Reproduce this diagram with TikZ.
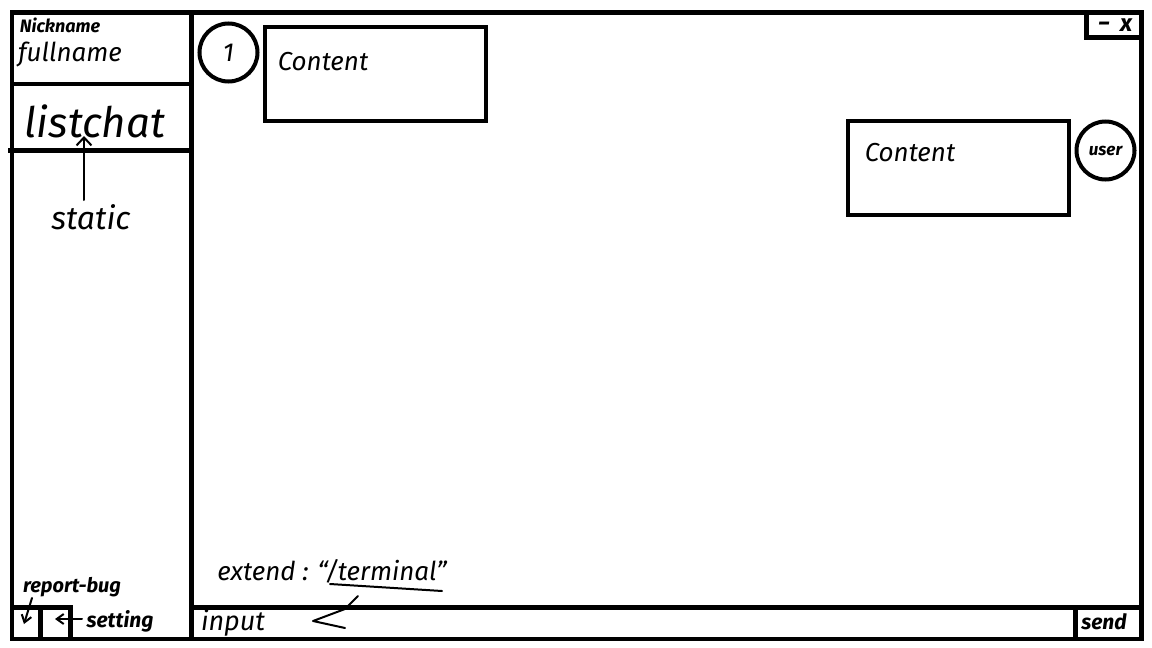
\documentclass[tikz,border=0pt]{standalone}
\usepackage{fontspec}
\setmainfont{Fira Sans}
\usetikzlibrary{arrows.meta}

\begin{document}
\begin{tikzpicture}[x=1pt, y=-1pt, line width=4.5pt,
  wall/.style={line width=4.5pt},
  contentbox/.style={draw, line width=4pt, minimum width=221pt, minimum height=94pt, inner sep=0pt},
  avatar/.style={draw, circle, line width=4pt, minimum size=58pt, inner sep=0pt},
  scrawl/.style={inner sep=0pt, font=\fontsize{#1}{#1}\selectfont\itshape},
  scrawlbold/.style={inner sep=0pt, font=\fontsize{#1}{#1}\selectfont\bfseries\itshape},
  pen/.style={line width=2pt, line cap=round, line join=round},
  penarrow/.style={pen, -{Straight Barb[length=8pt, width=15pt, line width=2pt]}},
  penarrowsmall/.style={pen, -{Straight Barb[length=7pt, width=10pt, line width=2pt]}},
]
  \useasboundingbox (0,0) rectangle (1152,648);
  % window frame
  \draw[wall] (12,12.5) rectangle (1141.5,639);
  % sidebar and input bar
  \draw[wall] (191.5,12.5) -- (191.5,639);
  \draw[wall] (12,84) -- (191.5,84);
  \draw[wall] (8,150.5) -- (191.5,150.5);
  \draw[wall] (191.5,607.5) -- (1141.5,607.5);
  \draw[wall] (1075.5,607.5) -- (1075.5,639);
  % buttons, bottom left
  \draw[wall] (12,607.5) -- (70.5,607.5) -- (70.5,639);
  \draw[wall] (40.5,607.5) -- (40.5,639);
  % min and close box
  \draw[wall] (1086.5,12.5) -- (1086.5,37.5) -- (1141.5,37.5);
  % messages
  \node[avatar, scrawl=26] (other) at (228.5,52.5) {1};
  \node[contentbox] (contentone) at (375.5,74) {};
  \node[contentbox] (contenttwo) at (958.5,168) {};
  \node[avatar, scrawlbold=17] (user) at (1105.5,150.5) {user};
  \node[scrawl=26] (contentonetext) at (323,62) {Content};
  \node[scrawl=26] (contenttwotext) at (910,153) {Content};
  % sidebar text
  \node[scrawlbold=18] (nickname) at (60,25) {Nickname};
  \node[scrawl=26] (fullname) at (70,55) {fullname};
  \node[scrawl=42] (listchat) at (95,121) {listchat};
  \node[scrawl=32] (static) at (91,217) {static};
  \node[scrawlbold=20] (reportbug) at (72,587) {report-bug};
  \node[scrawlbold=21] (setting) at (120,621) {setting};
  % input bar text
  \node[scrawl=26] (extend) at (332,571) {extend : “/terminal”};
  \node[scrawl=27] (input) at (233,623) {input};
  \node[scrawlbold=21] (send) at (1104,622) {send};
  \node[scrawlbold=24] (minclose) at (1115,25) {−\hspace{10pt}x};
  % arrows
  \coordinate (underlinestart) at (330,584);
  \coordinate (underlineend) at (442,591);
  \coordinate (inputtip) at (313,621);
  \coordinate (statictip) at (84,136);
  \coordinate (buglinestart) at (32,598);
  \coordinate (bugtip) at (24,624);
  \coordinate (settingstart) at (82,619);
  \coordinate (settingtip) at (55,619);
  \draw[pen] (underlinestart) -- (underlineend);
  \draw[pen] (358,596) -- (345,609) -- (inputtip) -- (345,628);
  \draw[penarrow] (84,200) -- (statictip);
  \draw[penarrowsmall] (buglinestart) -- (bugtip);
  \draw[penarrowsmall] (settingstart) -- (settingtip);
\end{tikzpicture}
\end{document}
